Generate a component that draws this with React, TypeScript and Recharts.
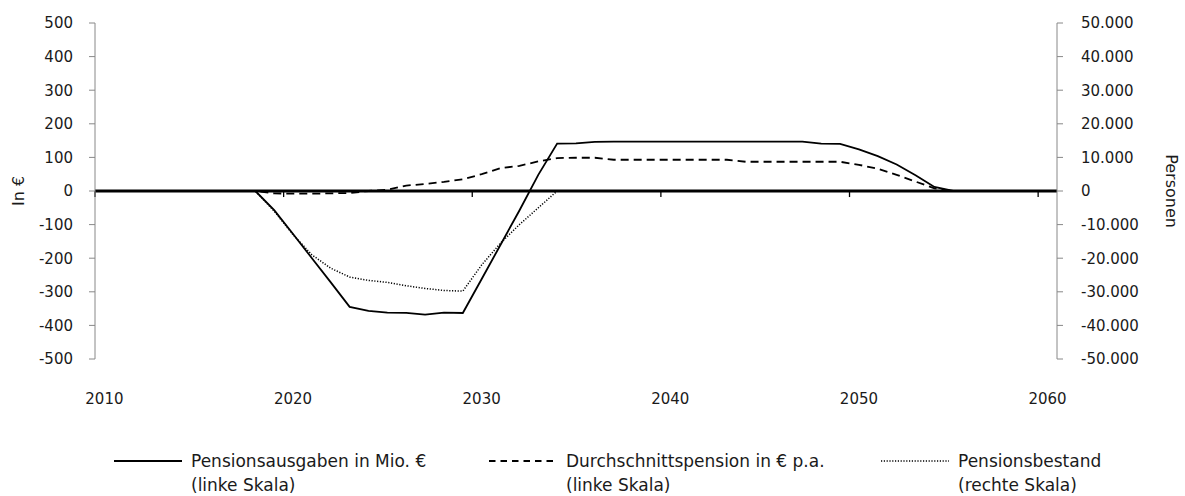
import { LineChart, Line, XAxis, YAxis, ReferenceLine } from 'recharts';

const years = [
  2010, 2011, 2012, 2013, 2014, 2015, 2016, 2017, 2018, 2019,
  2020, 2021, 2022, 2023, 2024, 2025, 2026, 2027, 2028, 2029,
  2030, 2031, 2032, 2033, 2034, 2035, 2036, 2037, 2038, 2039,
  2040, 2041, 2042, 2043, 2044, 2045, 2046, 2047, 2048, 2049,
  2050, 2051, 2052, 2053, 2054, 2055, 2056, 2057, 2058, 2059,
  2060,
];

// Pensionsausgaben in Mio. € (linke Skala)
const ausgaben = [
  0, 0, 0, 0, 0, 0, 0, 0, 0, -57,
  -128, -200, -272, -345, -357, -362, -363, -368, -362, -363,
  -262, -160, -58, 48, 141, 142, 146, 147, 147, 147,
  147, 147, 147, 147, 147, 147, 147, 147, 141, 140,
  124, 104, 79, 47, 12, 0, 0, 0, 0, 0,
  0,
];

// Durchschnittspension in € p.a. (linke Skala)
const durchschnitt = [
  0, 0, 0, 0, 0, 0, 0, 0, 0, -7,
  -8, -8, -7, -6, 0, 4, 16, 21, 27, 35,
  50, 68, 75, 88, 98, 99, 99, 93, 93, 93,
  93, 93, 93, 93, 87, 87, 87, 87, 87, 87,
  78, 66, 48, 28, 8, 0, 0, 0, 0, 0,
  0,
];

// Pensionsbestand (rechte Skala)
const bestand = [
  0, 0, 0, 0, 0, 0, 0, 0, 0, -6000,
  -13000, -19000, -23000, -25600, -26600, -27200, -28200, -29000, -29600, -29800,
  -22000, -15500, -10000, -5000, 0, 0, 0, 0, 0, 0,
  0, 0, 0, 0, 0, 0, 0, 0, 0, 0,
  0, 0, 0, 0, 0, 0, 0, 0, 0, 0,
  0,
];

const xTicks = [2010, 2020, 2030, 2040, 2050, 2060];
const leftTicks = [-500, -400, -300, -200, -100, 0, 100, 200, 300, 400, 500];
const rightTicks = [-50000, -40000, -30000, -20000, -10000, 0, 10000, 20000, 30000, 40000, 50000];

const legendItems = [
  { label: 'Pensionsausgaben in Mio. €', sub: '(linke Skala)', dash: undefined, width: 1.8, left: 114 },
  { label: 'Durchschnittspension in € p.a.', sub: '(linke Skala)', dash: '6.5 5', width: 1.8, left: 489 },
  { label: 'Pensionsbestand', sub: '(rechte Skala)', dash: '1.2 1.6', width: 1.5, left: 881 },
];

const data = years.map((year, i) => ({
  year,
  ausgaben: ausgaben[i],
  durchschnitt: durchschnitt[i],
  bestand: bestand[i],
}));

const FONT = "'DejaVu Sans', sans-serif";
const AXIS_GREY = '#888888';
const TEXT = '#1a1a1a';

const fmtThousands = (v: number) => {
  const s = Math.abs(v).toString().replace(/\B(?=(\d{3})+(?!\d))/g, '.');
  return v < 0 ? `-${s}` : s;
};

const App = () => {
  return (
    <div style={{ position: 'absolute', left: 0, top: 0, width: 1185, height: 496, background: '#fff' }}>
      <LineChart
        width={1185}
        height={496}
        data={data}
        margin={{ top: 23, right: 0, bottom: 82, left: 0 }}
      >
        <XAxis
          dataKey="year"
          type="number"
          domain={[2009.5, 2060.5]}
          ticks={xTicks}
          axisLine={false}
          tickLine={false}
          tickMargin={28}
          height={55}
          tick={{ fill: TEXT, fontSize: 15, fontFamily: FONT }}
        />
        <YAxis
          yAxisId="left"
          domain={[-500, 500]}
          ticks={leftTicks}
          width={95}
          stroke={AXIS_GREY}
          tickSize={6}
          tickMargin={16}
          tick={{ fill: TEXT, fontSize: 15, fontFamily: FONT }}
          label={{ value: 'In €', angle: -90, position: 'insideLeft', offset: 18, style: { textAnchor: 'middle', fill: TEXT, fontSize: 16, fontFamily: FONT } }}
        />
        <YAxis
          yAxisId="right"
          orientation="right"
          domain={[-50000, 50000]}
          ticks={rightTicks}
          width={128}
          stroke={AXIS_GREY}
          tickSize={6}
          tickMargin={18}
          tickFormatter={fmtThousands}
          tick={{ fill: TEXT, fontSize: 15, fontFamily: FONT, textAnchor: 'start' }}
          label={{ value: 'Personen', angle: 90, position: 'insideRight', offset: 13, style: { textAnchor: 'middle', fill: TEXT, fontSize: 16, fontFamily: FONT } }}
        />
        <ReferenceLine yAxisId="left" y={0} stroke="#000" strokeWidth={3} />
        {xTicks.map((t) => (
          <ReferenceLine
            key={t}
            yAxisId="left"
            segment={[{ x: t - 0.5, y: 0 }, { x: t - 0.5, y: -18 }]}
            stroke="#000"
            strokeWidth={1.3}
          />
        ))}
        <Line yAxisId="right" dataKey="bestand" stroke="#000" strokeWidth={1.5} strokeDasharray="1.2 1.6" dot={false} isAnimationActive={false} />
        <Line yAxisId="left" dataKey="durchschnitt" stroke="#000" strokeWidth={1.8} strokeDasharray="8 5" dot={false} isAnimationActive={false} />
        <Line yAxisId="left" dataKey="ausgaben" stroke="#000" strokeWidth={1.8} dot={false} isAnimationActive={false} />
      </LineChart>
      {legendItems.map((item) => (
        <div
          key={item.label}
          style={{ position: 'absolute', left: item.left, top: 449, display: 'flex', alignItems: 'flex-start', fontFamily: FONT, fontSize: 17, color: TEXT, whiteSpace: 'nowrap' }}
        >
          <svg width={68} height={24} style={{ marginRight: 9, flex: 'none' }}>
            <line x1={0} x2={68} y1={12} y2={12} stroke="#000" strokeWidth={item.width} strokeDasharray={item.dash} />
          </svg>
          <div style={{ lineHeight: '24px' }}>
            <div>{item.label}</div>
            <div>{item.sub}</div>
          </div>
        </div>
      ))}
    </div>
  );
};

export default App;
